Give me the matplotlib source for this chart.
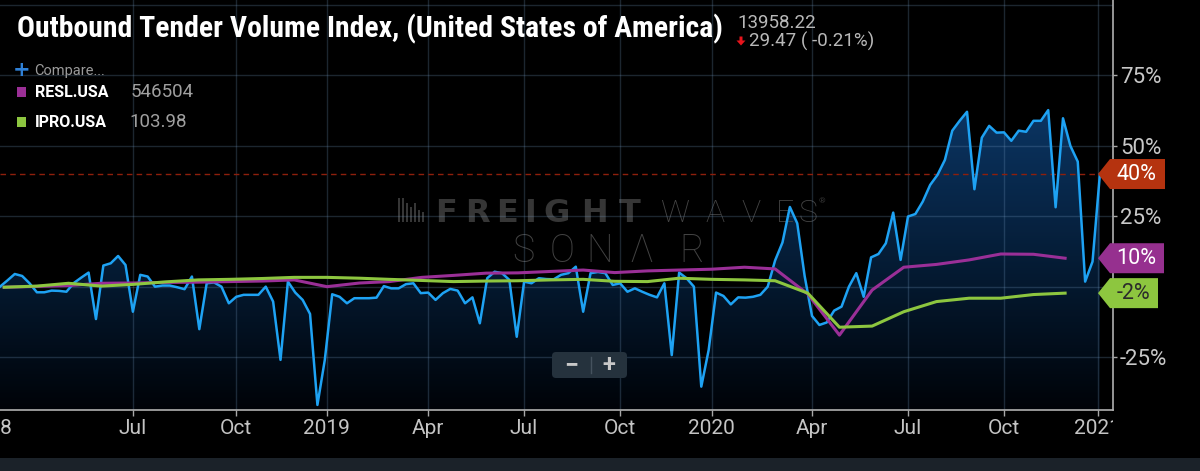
import numpy as np
import pandas as pd
import matplotlib
matplotlib.use("Agg")
import matplotlib.pyplot as plt
import matplotlib.dates as mdates
import matplotlib.transforms as mtransforms
from matplotlib.patches import Polygon, Rectangle, FancyBboxPatch
from matplotlib.lines import Line2D
from matplotlib import font_manager

# ---------------- data ----------------
chart_title = "Outbound Tender Volume Index, (United States of America)"
headline_value = "13958.22"
headline_change = "29.47 ( -0.21%)"
compare_label = "Compare..."
series_names = ["RESL.USA", "IPRO.USA"]
series_values = ["546504", "103.98"]

# weekly OTVI, year-over-year change in %
otvi_start = "2018-02-25"
otvi_pct = [
    0.0, 2.2, 4.5, 3.8, 1.2, -2.0, -2.0, -1.4, -1.5, -1.8,
    1.3, 3.2, 5.0, -11.5, 7.5, 8.3, 10.9, 7.7, -8.9, 4.2,
    3.6, 0.0, 0.4, 0.4, -0.2, -0.9, 3.6, -15.1, 1.2, 1.5,
    0.0, -5.9, -3.6, -2.9, -2.9, -2.9, 0.0, -5.3, -26.0, 1.8,
    -2.1, -4.7, -9.7, -42.0, -26.0, -2.7, -3.6, -5.9, -4.1, -4.1,
    -4.1, -3.9, 0.2, -0.6, -0.6, 0.9, 1.2, -2.3, -2.1, -4.7,
    -2.3, -0.8, -1.4, -5.9, -3.8, -13.0, 3.0, 5.3, 4.8, 2.4,
    -17.8, 1.8, 1.2, 3.0, 2.7, 2.6, 4.2, 4.8, 7.1, -8.9,
    4.8, 5.2, 4.8, 0.6, 1.2, -1.8, -0.6, -1.8, -2.9, -3.8,
    1.2, -24.3, 5.0, 3.0, 0.0, -35.5, -22.5, -2.1, -3.3, -6.3,
    -3.8, -3.9, -3.6, -2.9, 0.0, 9.3, 15.7, 28.3, 22.5, 3.8,
    -10.4, -13.6, -12.7, -8.5, -7.1, 0.0, 4.8, -3.6, 10.4, 11.6,
    15.4, 26.3, 9.5, 24.9, 25.8, 30.2, 36.1, 39.7, 45.0, 55.4,
    58.9, 62.1, 34.6, 52.9, 57.1, 54.7, 54.8, 51.8, 55.4, 55.0,
    58.9, 58.9, 62.7, 28.2, 59.8, 50.0, 44.4, 1.8, 8.9, 40.0,
]

# monthly series (Mar 2018 .. Dec 2020), % change
monthly_start = "2018-03-01"
resl_pct = [
    -0.2, 0.1, 0.4, 1.2, 1.3, 1.5, 1.6, 1.8, 2.0, 2.4,
    0.0, 1.3, 1.8, 3.3, 4.0, 4.8, 4.9, 5.4, 5.9, 5.0, 5.6, 5.9,
    6.2, 6.9, 6.3, -2.6, -17.2, -1.2, 6.9, 7.9, 9.5, 11.6, 11.5, 10.1,
]
ipro_pct = [
    -0.2, 0.2, 1.2, 0.2, 0.8, 1.7, 2.4, 2.6, 2.9, 3.3,
    3.3, 3.0, 2.6, 2.2, 1.8, 2.0, 2.1, 2.4, 2.6, 1.9, 1.8, 3.0,
    2.6, 2.4, 2.1, -2.3, -14.4, -14.0, -8.9, -5.3, -4.1, -4.1, -2.8, -2.3,
]

tick_dates = ["2018-07-01", "2018-10-07", "2019-01-01", "2019-04-07", "2019-07-07",
              "2019-10-06", "2020-01-01", "2020-04-05", "2020-07-05", "2020-10-04",
              "2021-01-01"]
tick_labels = ["Jul", "Oct", "2019", "Apr", "Jul", "Oct", "2020", "Apr", "Jul", "Oct", "2021"]
first_year_label = "2018"
y_ticks = [-25, 0, 25, 50, 75]
extra_grid = [100]
view_start = "2018-02-25"
view_end = "2021-01-15 10:00"
y_range = (-43.8, 101.8)

# ---------------- styling ----------------
W, H = 1200, 471
fig = plt.figure(figsize=(W / 100, H / 100), dpi=100, facecolor="black")
PX = mtransforms.Affine2D().scale(1, -1).translate(0, H)  # top-left pixel coords

avail = {f.name for f in font_manager.fontManager.ttflist}
BASE = "Roboto" if "Roboto" in avail else "DejaVu Sans"
NARROW = BASE
for cand in ["Roboto Condensed", "Liberation Sans Narrow", "Open Sans Condensed"]:
    if cand in avail:
        NARROW = cand
        break
plt.rcParams["font.family"] = [BASE, "DejaVu Sans"]

AX_L, AX_R, AX_T, AX_B = 0, 1113, 0, 410
ax = fig.add_axes([AX_L / W, 1 - AX_B / H, (AX_R - AX_L) / W, (AX_B - AX_T) / H])
ax.set_facecolor("black")

otvi_dates = pd.date_range(otvi_start, periods=len(otvi_pct), freq="7D")
month_dates = pd.date_range(monthly_start, periods=len(resl_pct), freq="MS")
xo = mdates.date2num(otvi_dates)
xm = mdates.date2num(month_dates)
x0 = mdates.date2num(pd.Timestamp(view_start))
x1 = mdates.date2num(pd.Timestamp(view_end))
y0, y1 = y_range

# gradient area under the OTVI line
yy = np.linspace(y1, y0, 600)
stops = [y0, 0, 63, y1]
cols = np.array([[0, 3, 8], [4, 24, 46], [11, 53, 99], [14, 62, 112]]) / 255.0
img = np.stack([np.interp(yy, stops, cols[:, k]) for k in range(3)], axis=-1)[:, None, :]
im = ax.imshow(img, extent=[x0, x1, y0, y1], aspect="auto", origin="upper",
               zorder=1, interpolation="bilinear")
poly = Polygon(np.column_stack([np.r_[xo, xo[-1], xo[0]], np.r_[otvi_pct, y0, y0]]),
               closed=True, facecolor="none", edgecolor="none")
ax.add_patch(poly)
im.set_clip_path(poly)

# grid
gridc = (0.45, 0.6, 0.75, 0.25)
tick_nums = mdates.date2num(pd.to_datetime(tick_dates))
for t in tick_nums:
    ax.axvline(t, color=gridc, lw=1, zorder=1.5)
for v in y_ticks + extra_grid:
    ax.axhline(v, color=gridc, lw=1, zorder=1.5)

# watermark
wm = "#363636"
for xc, ch in zip([446, 477, 507, 530, 557, 594, 630], "FREIGHT"):
    ax.text(xc, 222.5, ch, transform=PX, ha="center", va="baseline", color=wm,
            fontsize=23, fontweight="bold", family="DejaVu Sans", zorder=1.2)
for xc, ch in zip([675, 715, 751, 785, 808], "WAVES"):
    ax.text(xc, 222.5, ch, transform=PX, ha="center", va="baseline", color="#454545",
            fontsize=23, fontweight="light", zorder=1.2)
ax.text(822, 201, "®", transform=PX, ha="center", va="center", color=wm, fontsize=6, zorder=1.2)
for xc, ch in zip([523, 562, 600, 641, 692], "SONAR".replace("A", "Λ")):
    ax.text(xc, 262, ch, transform=PX, ha="center", va="baseline", color="#424242",
            fontsize=27, fontweight="light", zorder=1.2)
for bx, bt in zip([398, 402, 406, 410, 414, 418, 422], [198, 198, 203, 207, 203, 210, 212]):
    ax.add_patch(Rectangle((bx, bt), 2, 222 - bt, transform=PX, facecolor=wm,
                           edgecolor="none", zorder=1.2))

# series
ax.plot(xo, otvi_pct, color="#1ea2f3", lw=1.8, zorder=3)
ax.plot(xm, resl_pct, color="#9a2f97", lw=2.2, zorder=4)
ax.plot(xm, ipro_pct, color="#8dc63f", lw=2.2, zorder=5)
TIP = 1098
ax.hlines(otvi_pct[-1], 0, (TIP - AX_L) / (AX_R - AX_L), transform=ax.get_yaxis_transform(),
          colors="#8e1f0c", linestyles=(0, (4, 3)), lw=1, zorder=2.6)

ax.set_xlim(x0, x1)
ax.set_ylim(y0, y1)

# axes
ax.set_xticks(tick_nums, tick_labels)
ax.yaxis.tick_right()
ax.set_yticks(y_ticks, [f"{v}%" for v in y_ticks])
ax.tick_params(axis="x", colors="#a8a8a8", labelcolor="#c4c4c4", labelsize=15,
               length=4.3, width=1, pad=2, direction="out")
ax.tick_params(axis="y", colors="#a8a8a8", labelcolor="#c8c8c8", labelsize=16,
               length=3, width=1, pad=2, direction="out")
for s in ["top", "left"]:
    ax.spines[s].set_visible(False)
for s in ["right", "bottom"]:
    ax.spines[s].set_color("#b0b0b0")
    ax.spines[s].set_linewidth(1.2)
clip_rect = Rectangle((0, 0), AX_R, H, transform=mtransforms.IdentityTransform())
for lab in ax.get_xticklabels():
    lab.set_clip_path(clip_rect)
    lab.set_clip_on(True)
fig.text(12, AX_B + 6 + 2.8, first_year_label, transform=PX, ha="right", va="top",
         color="#c4c4c4", fontsize=15)

# last-value flags
def flag(val, color, tcolor, right):
    yp = H - ax.transData.transform((x0, val))[1]
    pts = [(TIP, yp), (TIP + 12, yp - 15), (right, yp - 15), (right, yp + 15), (TIP + 12, yp + 15)]
    fig.add_artist(Polygon(pts, closed=True, transform=PX, facecolor=color,
                           edgecolor="none", zorder=10))
    fig.text((TIP + 10 + right) / 2, yp, f"{val:.0f}%", transform=PX, ha="center",
             va="center", color=tcolor, fontsize=15.5, zorder=11)

flag(otvi_pct[-1], "#b5330f", "white", 1165)
flag(resl_pct[-1], "#96308f", "white", 1164)
flag(ipro_pct[-1], "#8dc63f", "#2b2b2b", 1158)

# title & header
t = fig.text(17, 37, chart_title, transform=PX, color="white", fontsize=20,
             fontweight="bold", family=[NARROW, "DejaVu Sans"], ha="left", va="baseline")
r = fig.canvas.get_renderer()
w = t.get_window_extent(r).width
t.set_fontsize(20 * 705 / w)

fig.text(737, 28, headline_value, transform=PX, color="#b8b8b8", fontsize=13.5,
         ha="left", va="baseline")
fig.add_artist(Polygon([(739.5, 36.5), (742.5, 36.5), (742.5, 40.5), (745.5, 40.5),
                        (741, 45.5), (736.5, 40.5), (739.5, 40.5)], closed=True,
                       transform=PX, facecolor="#e8141c", edgecolor="none"))
fig.text(749, 47, headline_change, transform=PX, color="#b8b8b8", fontsize=13.5,
         ha="left", va="baseline")

# legend
fig.text(22, 69.5, "+", transform=PX, color="#2f80d6", fontsize=15, fontweight="bold",
         ha="center", va="center", family="DejaVu Sans")
fig.text(34, 75.5, compare_label, transform=PX, color="#9a9a9a", fontsize=10.5,
         ha="left", va="baseline")
for i, (nm, vv, c) in enumerate(zip(series_names, series_values, ["#9b2f96", "#8dc640"])):
    yb = 97 + 30 * i
    fig.add_artist(Rectangle((17, yb - 10.5), 9, 10, transform=PX, facecolor=c, edgecolor="none"))
    fig.text(35, yb, nm, transform=PX, color="white", fontsize=11.5, fontweight="bold",
             ha="left", va="baseline")
    fig.text(131 - 2 * i, yb, vv, transform=PX, color="#a0a0a0", fontsize=13.5,
             ha="left", va="baseline")

# zoom buttons
fig.add_artist(FancyBboxPatch((552, 352), 75, 26, boxstyle="round,pad=0,rounding_size=4",
                              transform=PX, facecolor="#25323d", edgecolor="none", zorder=20))
fig.add_artist(Line2D([591, 591], [357, 373], transform=PX, color="#45525e", lw=1, zorder=21))
fig.text(571, 365, "−", transform=PX, color="#c8c8c8", fontsize=18, fontweight="bold",
         ha="center", va="center", zorder=21)
fig.text(609, 366, "+", transform=PX, color="#c8c8c8", fontsize=17, fontweight="bold",
         ha="center", va="center", zorder=21)

# bottom strip
fig.add_artist(Rectangle((0, 458), W, 13, transform=PX, facecolor="#1b2229", edgecolor="none"))

fig.savefig("out.png", dpi=100, facecolor="black")
